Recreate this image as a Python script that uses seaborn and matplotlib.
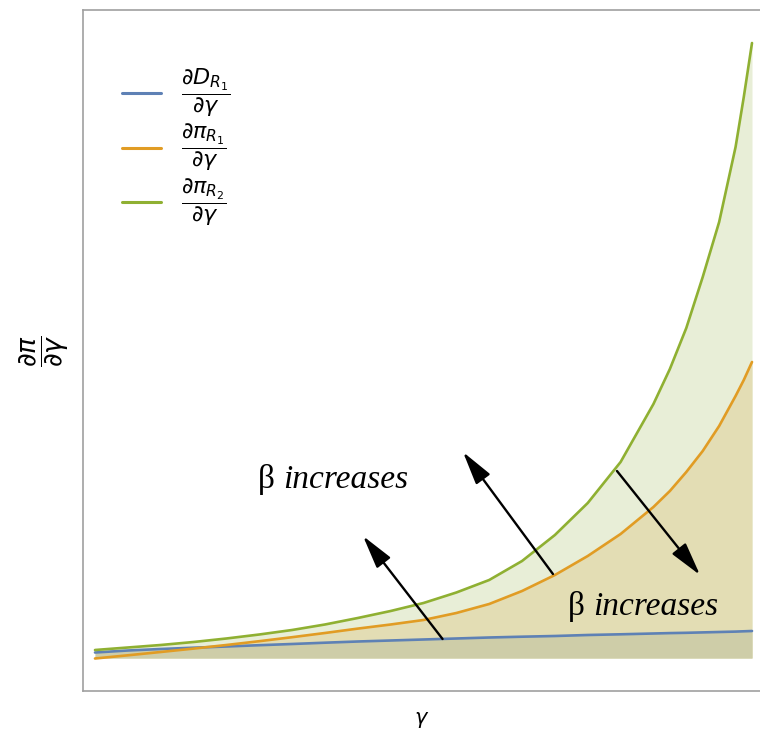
import numpy as np
import pandas as pd
import matplotlib
matplotlib.use("Agg")
import matplotlib.pyplot as plt
import seaborn as sns
from matplotlib.lines import Line2D

# ---- data (arbitrary units, no ticks shown) ----
gamma = [0, 0.05, 0.1, 0.15, 0.2, 0.25, 0.3, 0.35, 0.4, 0.45, 0.5, 0.55, 0.6, 0.65,
         0.7, 0.75, 0.8, 0.85, 0.875, 0.9, 0.925, 0.95, 0.975, 0.9875, 1.0]
dD_R1 = [5.5, 7.5, 9, 10.3, 11.5, 12.8, 14, 15.3, 16.5, 17.5, 18.5, 19.5, 20.5, 21.3,
         22, 23, 23.7, 24.5, 24.9, 25.2, 25.6, 26, 26.4, 26.7, 27]
dpi_R1 = [-0.5, 2.7, 6, 9.4, 13, 16.8, 20.8, 25, 29.4, 33.5, 38, 45, 54, 67,
          83, 102, 124, 151, 167, 186, 207, 232, 262, 278, 296]
dpi_R2 = [8, 10.5, 13, 16, 19.5, 23.5, 28, 33.5, 40, 47, 55, 65.5, 78, 97,
          123, 155, 196, 254, 289, 330, 381, 436, 511, 561, 615]

series_names = ["dD_R1", "dpi_R1", "dpi_R2"]
legend_labels = [r"$\dfrac{\partial D_{R_1}}{\partial \gamma}$",
                 r"$\dfrac{\partial \pi_{R_1}}{\partial \gamma}$",
                 r"$\dfrac{\partial \pi_{R_2}}{\partial \gamma}$"]
line_colors = ["#5e81b5", "#e19c24", "#8fb032"]
fill_colors = ["#cecda8", "#e3ddb4", "#e8eed7"]
annot_text = "increases"

df = pd.DataFrame({
    "gamma": gamma * 3,
    "value": dD_R1 + dpi_R1 + dpi_R2,
    "series": sum([[s] * len(gamma) for s in series_names], []),
})

sns.set_style("white")
fig = plt.figure(figsize=(7.6, 7.34), dpi=100)
ax = fig.add_axes([83 / 760, 43 / 734, 677 / 760, 681 / 734])

# fills (drawn from the largest to the smallest, opaque)
series_vals = {"dD_R1": dD_R1, "dpi_R1": dpi_R1, "dpi_R2": dpi_R2}
for name, fc in zip(series_names[::-1], fill_colors[::-1]):
    ax.fill_between(gamma, 0, series_vals[name], color=fc, lw=0, zorder=1)

sns.lineplot(data=df, x="gamma", y="value", hue="series", hue_order=series_names,
             palette=line_colors, lw=1.9, ax=ax, legend=False, zorder=3, sort=False)

ax.set_xlim(-12 / 657, 665 / 657)
ax.set_ylim(-33, 648)
ax.set_xticks([])
ax.set_yticks([])
for side in ["left", "bottom", "top"]:
    ax.spines[side].set_color("#a0a0a0")
    ax.spines[side].set_linewidth(1.2)
ax.spines["right"].set_visible(False)

ax.set_xlabel(r"$\gamma$", fontsize=15, labelpad=14, color="black")
ax.set_ylabel(r"$\dfrac{\partial \pi}{\partial \gamma}$", fontsize=19, color="black")
ax.yaxis.set_label_coords(-0.018, 0.5)

# legend
handles = [Line2D([0], [0], color=c, lw=2.2) for c in line_colors]
leg = ax.legend(handles, legend_labels, loc="upper left", bbox_to_anchor=(0.045, 0.929),
                frameon=False, fontsize=16, handlelength=1.75, handletextpad=0.9,
                labelspacing=0.14, borderaxespad=0)
for t in leg.get_texts():
    t.set_color("black")

# arrows
arrow_kw = dict(arrowstyle="-|>,head_length=0.85,head_width=0.22", mutation_scale=24,
                lw=1.7, color="black", shrinkA=0, shrinkB=0)
arrows = [((0.529, 19), (0.4079, 122)),
          ((0.697, 84), (0.5601, 206)),
          ((0.7945, 187), (0.9209, 83))]
for tail, head in arrows:
    ax.annotate("", xy=head, xytext=tail, arrowprops=arrow_kw, zorder=4)

# "β increases" labels
serif = ["Liberation Serif", "DejaVu Serif"]
for (xb, xt, yb) in [(0.248, 0.286, 170), (0.72, 0.758, 43)]:
    ax.text(xb, yb, "β", family=serif, fontsize=24, va="baseline", ha="left",
            color="black", zorder=5)
    ax.text(xt, yb, annot_text, family=serif, style="italic", fontsize=24,
            va="baseline", ha="left", color="black", zorder=5)

fig.savefig("out.png", dpi=100)
